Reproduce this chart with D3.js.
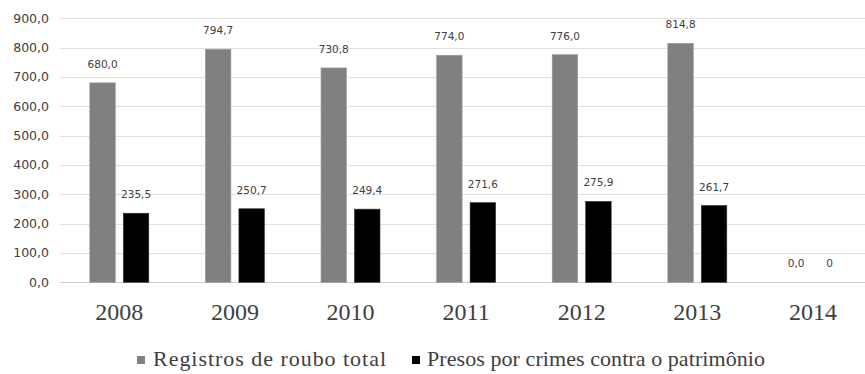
<!DOCTYPE html>
<html>
<head>
<meta charset="utf-8">
<script src="https://cdn.jsdelivr.net/npm/d3@7"></script>
<style>
  html, body { margin: 0; padding: 0; background: #fff; }
  svg { display: block; }
</style>
</head>
<body>
<svg id="chart" width="865" height="374"></svg>
<script>
// Annual figures, 2008–2014
const years = ["2008", "2009", "2010", "2011", "2012", "2013", "2014"];
const seriesNames = ["Registros de roubo total", "Presos por crimes contra o patrimônio"];
const registros = [680.0, 794.7, 730.8, 774.0, 776.0, 814.8, 0.0];
const presos = [235.5, 250.7, 249.4, 271.6, 275.9, 261.7, 0];
// the 2014 prisoner count is printed without a decimal place
const presosDecimals = [1, 1, 1, 1, 1, 1, 0];
const yTicks = [0, 100, 200, 300, 400, 500, 600, 700, 800, 900];
const colors = ["#808080", "#000000"];

const SERIF = '"Liberation Serif"';
const SANS = '"DejaVu Sans"';

const svg = d3.select("#chart");

const x = d3.scaleBand().domain(years).range([61.5, 870.7]).paddingInner(0).paddingOuter(0);
const xSub = d3.scaleBand().domain([0, 1]).range([28.3, 87.3]).paddingInner(0.2388).paddingOuter(0);
const y = d3.scaleLinear().domain([0, 900]).range([282.3, 18.3]);

const fmt = (v, d) => v.toFixed(d).replace(".", ",");

// horizontal gridlines
svg.append("g")
  .selectAll("line")
  .data(yTicks)
  .join("line")
  .attr("x1", 60)
  .attr("x2", 865)
  .attr("y1", d => Math.round(y(d)) + 0.5)
  .attr("y2", d => Math.round(y(d)) + 0.5)
  .attr("stroke", d => d === 0 ? "#cfcfcf" : "#e0e0e0")
  .attr("stroke-width", 1);

// y axis labels
const yAxis = svg.append("g")
  .attr("transform", "translate(49,0)")
  .call(d3.axisLeft(y).tickValues(yTicks).tickSize(0).tickPadding(0).tickFormat(d => fmt(d, 1)));
yAxis.select(".domain").remove();
yAxis.selectAll("text")
  .style("font-family", SANS)
  .style("font-size", "12.5px")
  .attr("fill", "#404040");

// x axis labels
const xAxis = svg.append("g")
  .attr("transform", "translate(0,282)")
  .call(d3.axisBottom(x).tickSize(0).tickPadding(0));
xAxis.select(".domain").remove();
xAxis.selectAll("text")
  .attr("dy", null)
  .attr("y", 38)
  .style("font-family", SERIF)
  .style("font-size", "24px")
  .attr("fill", "#404040");

const seriesData = [registros, presos];

// bars
const groups = svg.append("g")
  .selectAll("g")
  .data(seriesData)
  .join("g")
  .attr("fill", (d, i) => colors[i]);

groups.each(function (vals, si) {
  const g = d3.select(this);
  g.selectAll("rect")
    .data(vals.map((v, i) => ({ v, year: years[i] })))
    .join("rect")
    .attr("x", d => x(d.year) + xSub(si))
    .attr("width", xSub.bandwidth())
    .attr("y", d => y(d.v))
    .attr("height", d => y(0) - y(d.v))
    .attr("stroke", si === 0 ? "#9a9a9a" : "#333")
    .attr("stroke-width", 0.6);

  g.selectAll("text")
    .data(vals.map((v, i) => ({ v, i, year: years[i] })))
    .join("text")
    .attr("x", d => x(d.year) + xSub(si) + xSub.bandwidth() / 2)
    .attr("y", d => y(d.v) - 15)
    .attr("text-anchor", "middle")
    .style("font-family", SANS)
    .style("font-size", "10.5px")
    .attr("fill", "#404040")
    .text(d => fmt(d.v, si === 0 ? 1 : presosDecimals[d.i]));
});

// legend
const legend = svg.append("g");
const legendItems = [
  { name: seriesNames[0], color: colors[0], sx: 137, tx: 153, len: 233 },
  { name: seriesNames[1], color: colors[1], sx: 412, tx: 427, len: 338 }
];
legendItems.forEach(it => {
  legend.append("rect")
    .attr("x", it.sx).attr("y", 356)
    .attr("width", 8).attr("height", 8)
    .attr("fill", it.color);
  legend.append("text")
    .attr("x", it.tx).attr("y", 366)
    .attr("textLength", it.len)
    .attr("lengthAdjust", "spacing")
    .style("font-family", SERIF)
    .style("font-size", "22px")
    .attr("fill", "#404040")
    .text(it.name);
});
</script>
</body>
</html>
